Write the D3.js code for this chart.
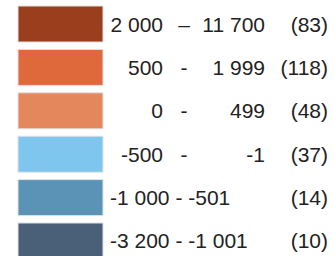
<!DOCTYPE html>
<html><head><meta charset="utf-8">
<script src="https://cdn.jsdelivr.net/npm/d3@7"></script>
<style>html,body{margin:0;padding:0;background:#fff;}svg{display:block;}</style>
</head><body>
<svg id="c" width="334" height="256"></svg>
<script>
const lower = ["2 000", "500", "0", "-500", "-1 000", "-3 200"];
const upper = ["11 700", "1 999", "499", "-1", "-501", "-1 001"];
const separators = ["–", "-", "-", "-", "-", "-"];
const counts = [83, 118, 48, 37, 14, 10];
const colors = ["#9a3e1e", "#e0693b", "#e5875d", "#7fc6ef", "#5b93b6", "#4a5f78"];
const compact = [false, false, false, false, true, true];

const svg = d3.select("#c");
const idx = d3.range(lower.length);
const y = d3.scaleBand().domain(idx).range([6, 259]).paddingInner(0.17).paddingOuter(0);
const x = d3.scaleLinear().domain([0, 1]).range([18, 103]);

const font = "Liberation Sans, Arial, sans-serif";
const fs = 21;

const g = svg.selectAll("g.row").data(idx).join("g").attr("class", "row");
g.append("rect")
  .attr("x", x(0)).attr("width", x(1) - x(0))
  .attr("y", d => y(d)).attr("height", y.bandwidth())
  .attr("fill", d => colors[d])
  .attr("stroke", "#e2e2e2").attr("stroke-width", 1);

const base = d => y(d) + y.bandwidth() / 2 + 7.5;
const txt = (sel) => sel.attr("font-family", font).attr("font-size", fs).attr("fill", "#222");

g.filter(d => !compact[d]).append("text").call(txt)
  .attr("x", 163).attr("y", base).attr("text-anchor", "end").text(d => lower[d]);
g.filter(d => !compact[d]).append("text").call(txt)
  .attr("x", 184).attr("y", base).attr("text-anchor", "middle").text(d => separators[d]);
g.filter(d => !compact[d]).append("text").call(txt)
  .attr("x", 265).attr("y", base).attr("text-anchor", "end").text(d => upper[d]);
g.filter(d => compact[d]).append("text").call(txt)
  .attr("x", 110).attr("y", base).attr("text-anchor", "start")
  .text(d => lower[d] + " " + separators[d] + " " + upper[d]);
g.append("text").call(txt)
  .attr("x", 328).attr("y", base).attr("text-anchor", "end").text(d => "(" + counts[d] + ")");
</script>
</body></html>
